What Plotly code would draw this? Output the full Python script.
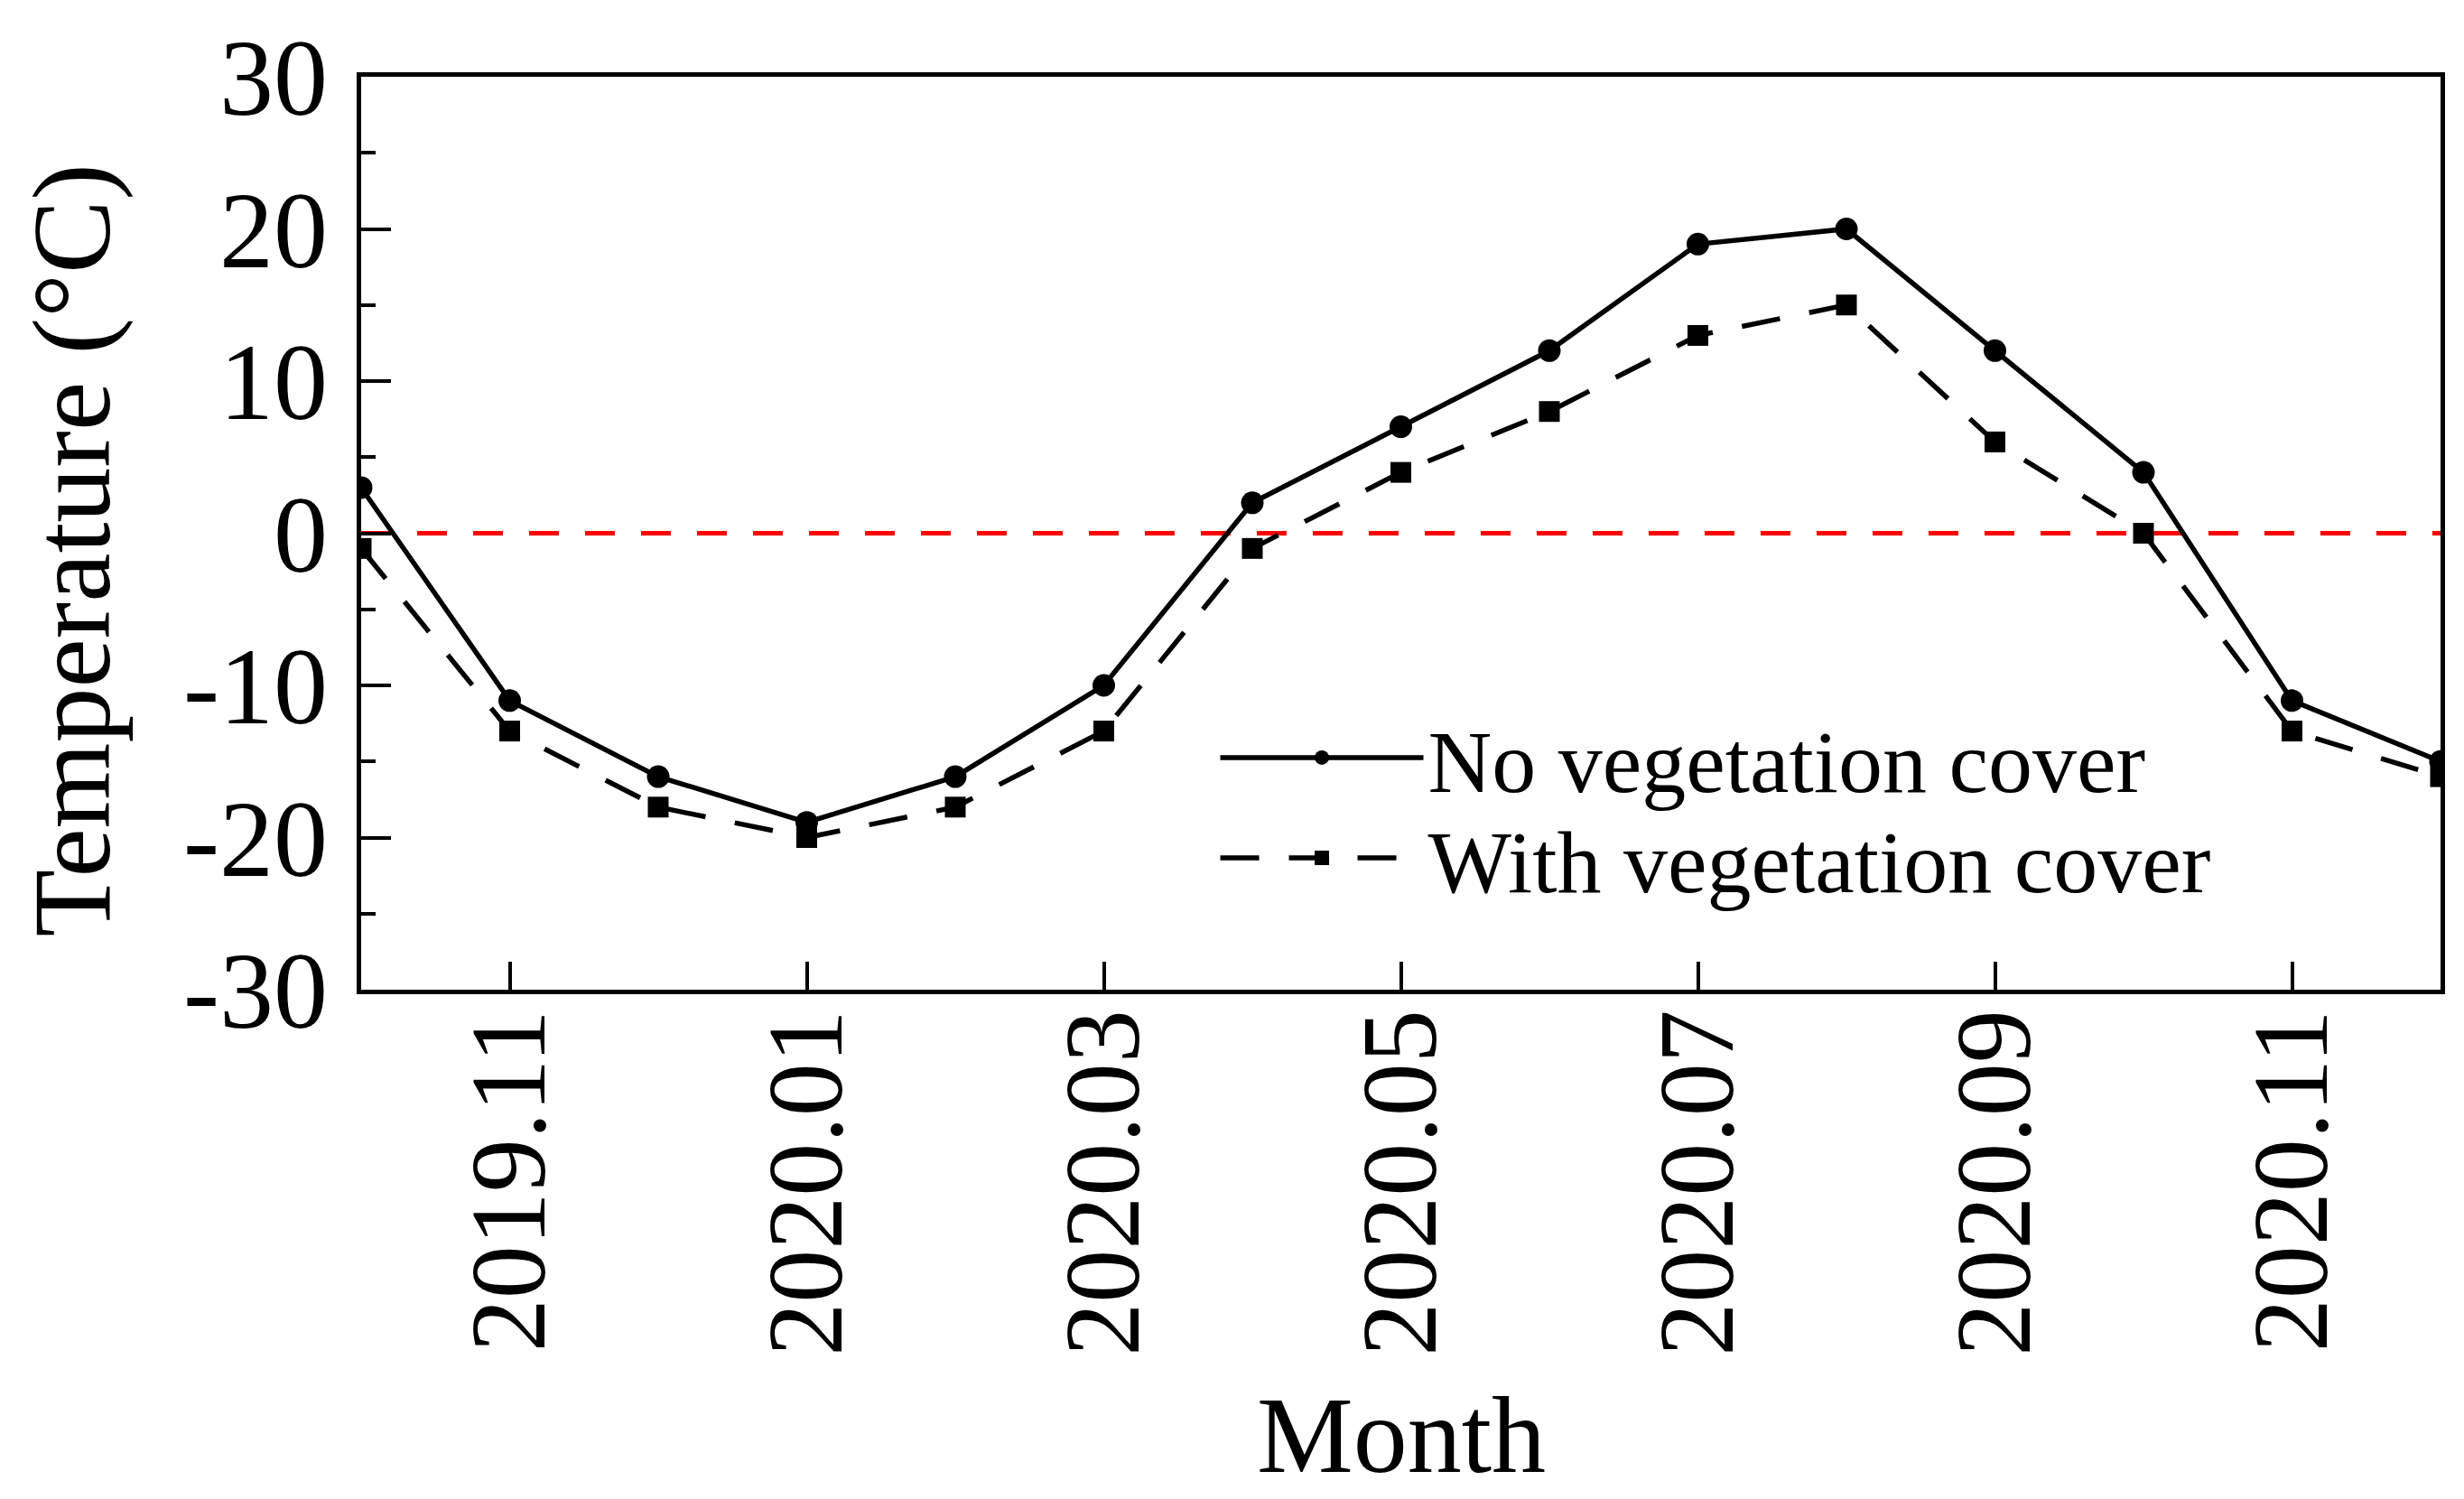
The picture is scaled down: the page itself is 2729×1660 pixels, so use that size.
import plotly.graph_objects as go

months = ["2019.10", "2019.11", "2019.12", "2020.01", "2020.02", "2020.03", "2020.04",
          "2020.05", "2020.06", "2020.07", "2020.08", "2020.09", "2020.10", "2020.11", "2020.12"]
no_veg = [3, -11, -16, -19, -16, -10, 2, 7, 12, 19, 20, 12, 4, -11, -15]
with_veg = [-1, -13, -18, -20, -18, -13, -1, 4, 8, 13, 15, 6, 0, -13, -16]
x_tick_labels = ["2019.11", "2020.01", "2020.03", "2020.05", "2020.07", "2020.09", "2020.11"]
y_tick_vals = [-30, -20, -10, 0, 10, 20, 30]
y_tick_text = ["-30", "-20", "-10", "0", "10", "20", "30"]

FONT = "Liberation Serif"

fig = go.Figure()
fig.add_trace(go.Scatter(
    x=months, y=no_veg, mode="lines+markers", name="No vegetation cover",
    line=dict(color="black", width=5.5),
    marker=dict(symbol="circle", size=25, color="black"),
    legend="legend",
))
fig.add_trace(go.Scatter(
    x=months, y=with_veg, mode="lines+markers", name="With vegetation cover",
    line=dict(color="black", width=5.5, dash="43px,33px"),
    marker=dict(symbol="square", size=23, color="black"),
    legend="legend2",
))
fig.add_hline(y=0, line=dict(color="#FF0000", width=5, dash="33px,29px"), layer="below")

legend_common = dict(
    xanchor="left", yanchor="middle",
    font=dict(family=FONT, size=98, color="black"),
    bgcolor="rgba(0,0,0,0)", itemwidth=225,
)

fig.update_layout(
    width=2729, height=1660,
    margin=dict(l=392, r=34, t=68, b=572),
    paper_bgcolor="white", plot_bgcolor="white",
    font=dict(family=FONT, color="black", size=118),
    showlegend=True,
    legend=dict(x=0.411, y=0.254, **legend_common),
    legend2=dict(x=0.411, y=0.144, **legend_common),
    xaxis=dict(
        type="category", range=[0, 14],
        tickmode="array", tickvals=x_tick_labels, ticktext=x_tick_labels,
        tickangle=-90, ticks="inside", ticklen=31, tickwidth=4, tickcolor="black",
        ticklabelstandoff=-30,
        showline=True, linewidth=5, linecolor="black", mirror=True,
        showgrid=False, zeroline=False,
        tickfont=dict(family=FONT, size=118, color="black"),
    ),
    yaxis=dict(
        range=[-30, 30],
        tickmode="array", tickvals=y_tick_vals, ticktext=y_tick_text,
        ticks="inside", ticklen=33, tickwidth=4, tickcolor="black",
        ticklabelstandoff=8,
        minor=dict(ticks="inside", ticklen=16, tickwidth=4, tickcolor="black", dtick=5, tick0=0, showgrid=False),
        showline=True, linewidth=5, linecolor="black", mirror=True,
        showgrid=False, zeroline=False,
        tickfont=dict(family=FONT, size=120, color="black"),
    ),
    annotations=[
        dict(text="Temperature (°C)", textangle=-90, xref="paper", yref="paper",
             x=-0.139, y=0.482, xanchor="center", yanchor="middle", showarrow=False,
             font=dict(family=FONT, size=122, color="black")),
        dict(text="Month", xref="paper", yref="paper",
             x=0.5, y=-0.488, xanchor="center", yanchor="middle", showarrow=False,
             font=dict(family=FONT, size=120, color="black")),
    ],
)

fig.write_html("out.html")
